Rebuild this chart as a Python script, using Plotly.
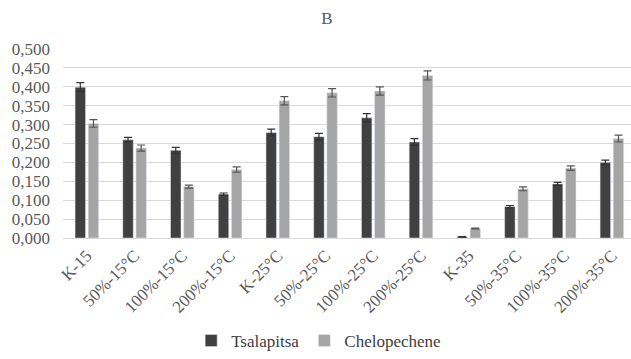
import plotly.graph_objects as go

categories = ["K-15", "50%-15°C", "100%-15°C", "200%-15°C", "K-25°C", "50%-25°C",
              "100%-25°C", "200%-25°C", "K-35", "50%-35°C", "100%-35°C", "200%-35°C"]
tsalapitsa = [0.399, 0.260, 0.232, 0.116, 0.279, 0.268, 0.318, 0.254, 0.003, 0.083, 0.143, 0.200]
tsalapitsa_err = [0.012, 0.006, 0.008, 0.003, 0.009, 0.009, 0.011, 0.009, 0.001, 0.003, 0.004, 0.006]
chelopechene = [0.303, 0.238, 0.136, 0.181, 0.363, 0.384, 0.389, 0.430, 0.025, 0.130, 0.185, 0.263]
chelopechene_err = [0.010, 0.008, 0.004, 0.007, 0.011, 0.011, 0.011, 0.012, 0.001, 0.005, 0.006, 0.009]
y_ticks = [0, 0.05, 0.1, 0.15, 0.2, 0.25, 0.3, 0.35, 0.4, 0.45, 0.5]

ff = "Liberation Serif"

fig = go.Figure()
fig.add_trace(go.Bar(
    name="Tsalapitsa", x=categories, y=tsalapitsa,
    marker=dict(color="#404040"),
    error_y=dict(type="data", array=tsalapitsa_err, color="#333333", thickness=1.2, width=4),
))
fig.add_trace(go.Bar(
    name="Chelopechene", x=categories, y=chelopechene,
    marker=dict(color="#a5a5a5"),
    error_y=dict(type="data", array=chelopechene_err, color="#555555", thickness=1.2, width=4),
))

fig.update_layout(
    width=631, height=359,
    margin=dict(l=63, r=0, t=49, b=121, autoexpand=False),
    paper_bgcolor="white", plot_bgcolor="white",
    separators=", ",
    font=dict(family=ff, size=17, color="#595959"),
    title=dict(text="B", xref="container", x=0.518, xanchor="center",
               yref="container", y=0.95, yanchor="middle",
               font=dict(family=ff, size=17, color="#595959")),
    barmode="group", bargap=0.45, bargroupgap=0.2,
    showlegend=True,
    legend=dict(orientation="h", xref="container", x=0.505, xanchor="center",
                yref="container", y=-0.025, yanchor="bottom",
                font=dict(family=ff, size=17, color="#404040"),
                tracegroupgap=0, itemwidth=30),
)
fig.update_yaxes(range=[0, 0.5], tickvals=y_ticks, tickformat=".3f", automargin=False,
                 showgrid=True, gridcolor="#d9d9d9", gridwidth=1, zeroline=False,
                 showline=False, ticks="", ticklabelstandoff=12,
                 tickfont=dict(family=ff, size=17, color="#595959"))
fig.update_xaxes(tickangle=-45, showline=True, linecolor="#d9d9d9", ticks="", automargin=False,
                 range=[-0.5, 11.4],
                 tickfont=dict(family=ff, size=17, color="#595959"))

fig.write_html("out.html", config={"displayModeBar": False},
               post_script="document.body.style.margin='0';document.body.style.overflow='hidden';")
